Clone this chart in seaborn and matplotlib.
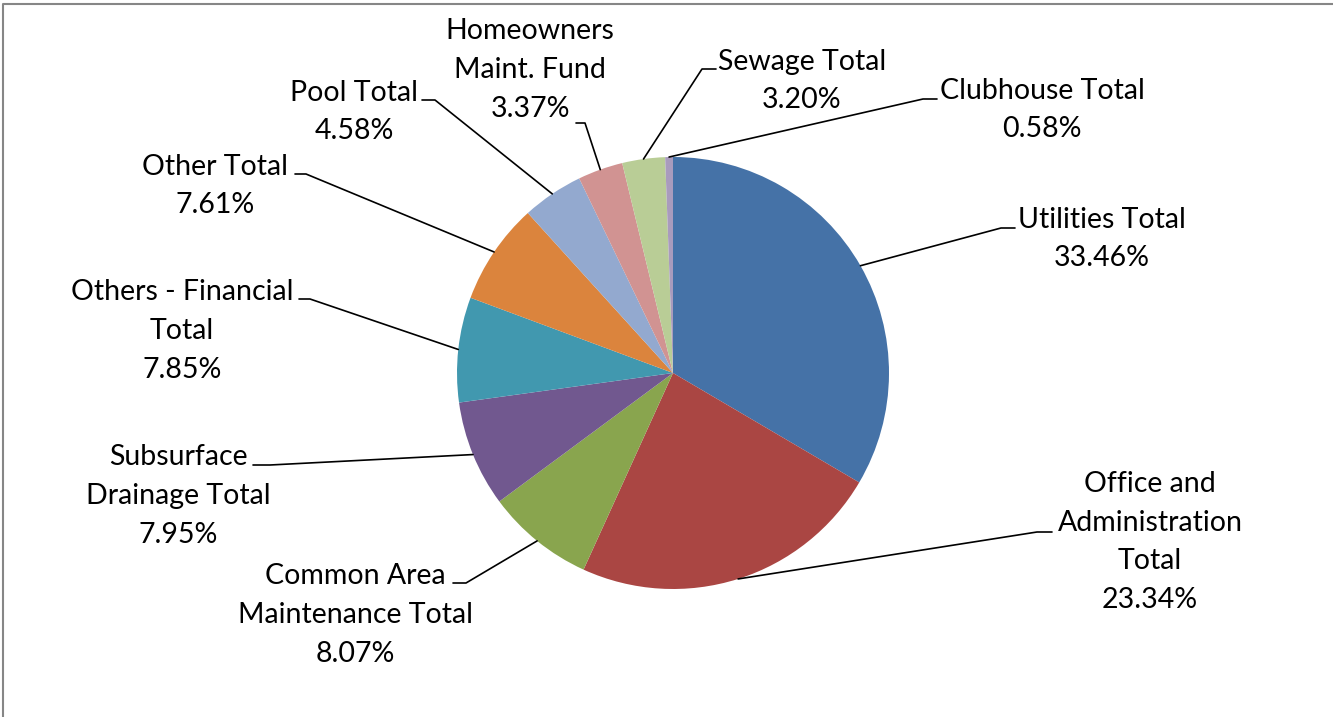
import numpy as np
import matplotlib
matplotlib.use("Agg")
import matplotlib.pyplot as plt
import seaborn as sns

# slice data, clockwise from 12 o'clock
categories = [
    "Utilities Total",
    "Office and\nAdministration\nTotal",
    "Common Area\nMaintenance Total",
    "Subsurface\nDrainage Total",
    "Others - Financial\nTotal",
    "Other Total",
    "Pool Total",
    "Homeowners\nMaint. Fund",
    "Sewage Total",
    "Clubhouse Total",
]
shares = [33.46, 23.34, 8.07, 7.95, 7.85, 7.61, 4.58, 3.37, 3.20, 0.58]
slice_colors = ["#4572A7", "#AA4643", "#89A54E", "#71588F", "#4198AF",
                "#DB843D", "#93A9CF", "#D19392", "#B9CD96", "#A99BBD"]

# label layout in image pixels: text centre x, y, leader elbow x, y, leader end x
label_layout = [
    (1102, 239, 1001, 228, 1015),
    (1150, 542, 1037, 532, 1052),
    (355, 615, 466, 583, 453),
    (178, 496, 270, 465, 253),
    (182, 331, 310, 299, 299),
    (215, 186, 306, 174, 295),
    (354, 112, 435, 100, 422),
    (530, 70, 585, 123, 576),
    (802, 81, 702, 69, 716),
    (1042, 110, 923, 99, 937),
]

W, H = 1333, 717
PIE_CENTER = (673, H - 373)
PIE_R = 216


def flip(y):
    return H - y


sns.set_theme(style="white")
plt.rcParams["font.family"] = ["Lato", "DejaVu Sans"]

fig = plt.figure(figsize=(W / 100, H / 100), dpi=100)
ax = fig.add_axes([0, 0, 1, 1])

wedges, _ = ax.pie(shares, colors=sns.color_palette(slice_colors), startangle=90,
                   counterclock=False, center=PIE_CENTER, radius=PIE_R,
                   wedgeprops=dict(linewidth=0))

for wedge, name, share, (tx, ty, ex, ey, endx) in zip(wedges, categories, shares, label_layout):
    mid = np.deg2rad((wedge.theta1 + wedge.theta2) / 2)
    px = PIE_CENTER[0] + PIE_R * np.cos(mid)
    py = PIE_CENTER[1] + PIE_R * np.sin(mid)
    ax.plot([px, ex, endx], [py, flip(ey), flip(ey)], color="black", lw=1.2)
    ax.text(tx, flip(ty), f"{name}\n{share:.2f}%", ha="center", va="center",
            fontsize=20.5, linespacing=1.6, color="black")

ax.set_xlim(0, W)
ax.set_ylim(0, H)
ax.set_aspect("equal")
ax.set_axis_off()

# chart area border (left and top edges visible)
ax.plot([3, 3, W], [0, flip(4), flip(4)], color="#868686", lw=1.5, clip_on=False)

fig.savefig("out.png", dpi=100, facecolor="white")
